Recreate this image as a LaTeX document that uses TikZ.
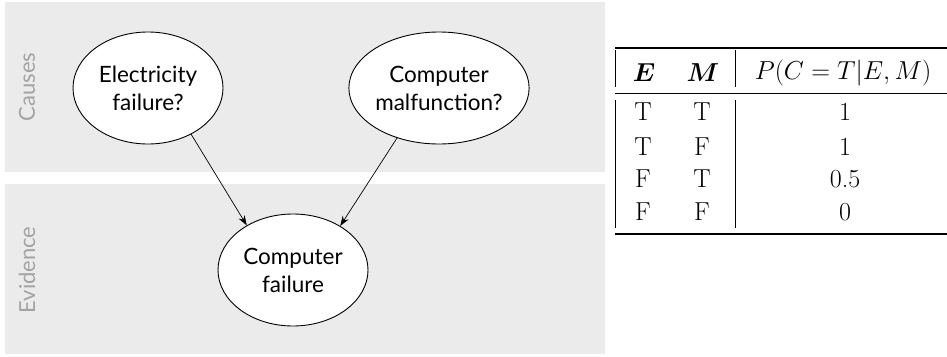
\documentclass[tikz,border=0pt]{standalone}
\usepackage{fix-cm}
\usepackage{amsmath}
\usepackage{fontspec}
\setsansfont{Lato}
\usetikzlibrary{shapes.geometric,arrows.meta}
\begin{document}
\begin{tikzpicture}[x=1pt,y=-1pt,
    band/.style={fill=black!8,draw=none},
    bandlabel/.style={rotate=90,text=black!36,font=\sffamily\fontsize{22}{26}\selectfont},
    event/.style={
      % The shape:
      ellipse,minimum width=150pt,minimum height=112pt,inner sep=0pt,
      % The rest
      draw=black,line width=0.9pt,fill=white,align=center,
      font=\sffamily\fontsize{22.5}{28}\selectfont},
    cell/.style={font=\fontsize{26}{30}\selectfont,inner sep=0pt},
    link/.style={-{Stealth[length=10pt,width=7pt]},line width=0.7pt}]
    \useasboundingbox (0,0) rectangle (947,356);
    \fill[band] (5,2) rectangle (605,172);
    \fill[band] (5,184) rectangle (605,354);
    \node (causes)  [bandlabel] at (27,87) {Causes};
    \node (evidence)  [bandlabel] at (27,270) {Evidence};
    \node (elec)  [event] at (148,88) {Electricity\\failure?};
    \node (malf)  [event] at (439,88) {Computer\\malfunction?};
    \node (fail)  [event] at (293,270) {Computer\\failure};
    \draw[link]  (elec.-47) -- (fail.136);
    \draw[link]  (malf.-130) -- (fail.43);
    % the table
    \node (hE)  [cell] at (644,73) {$\boldsymbol{E}$};
    \node (hM)  [cell] at (703,73) {$\boldsymbol{M}$};
    \node (hP)  [cell] at (843,73) {$P(C=T|E,M)$};
    \node (r1e)  [cell] at (643,112) {T};
    \node (r1m)  [cell] at (702,112) {T};
    \node (r1p)  [cell] at (845,112) {1};
    \node (r2e)  [cell] at (643,147) {T};
    \node (r2m)  [cell] at (702,147) {F};
    \node (r2p)  [cell] at (845,147) {1};
    \node (r3e)  [cell] at (643,179) {F};
    \node (r3m)  [cell] at (702,179) {T};
    \node (r3p)  [cell] at (845,179) {0.5};
    \node (r4e)  [cell] at (643,212) {F};
    \node (r4m)  [cell] at (702,212) {F};
    \node (r4p)  [cell] at (845,212) {0};
    \draw[line width=1.3pt]  (615,48) -- (947,48);
    \draw[line width=0.8pt]  (615,93) -- (947,93);
    \draw[line width=1.3pt]  (615,234) -- (947,234);
    \draw[line width=0.6pt]  (615,50) -- (615,87) (615,100) -- (615,228);
    \draw[line width=0.6pt]  (735,50) -- (735,87) (735,100) -- (735,228);
  \end{tikzpicture}
\end{document}
